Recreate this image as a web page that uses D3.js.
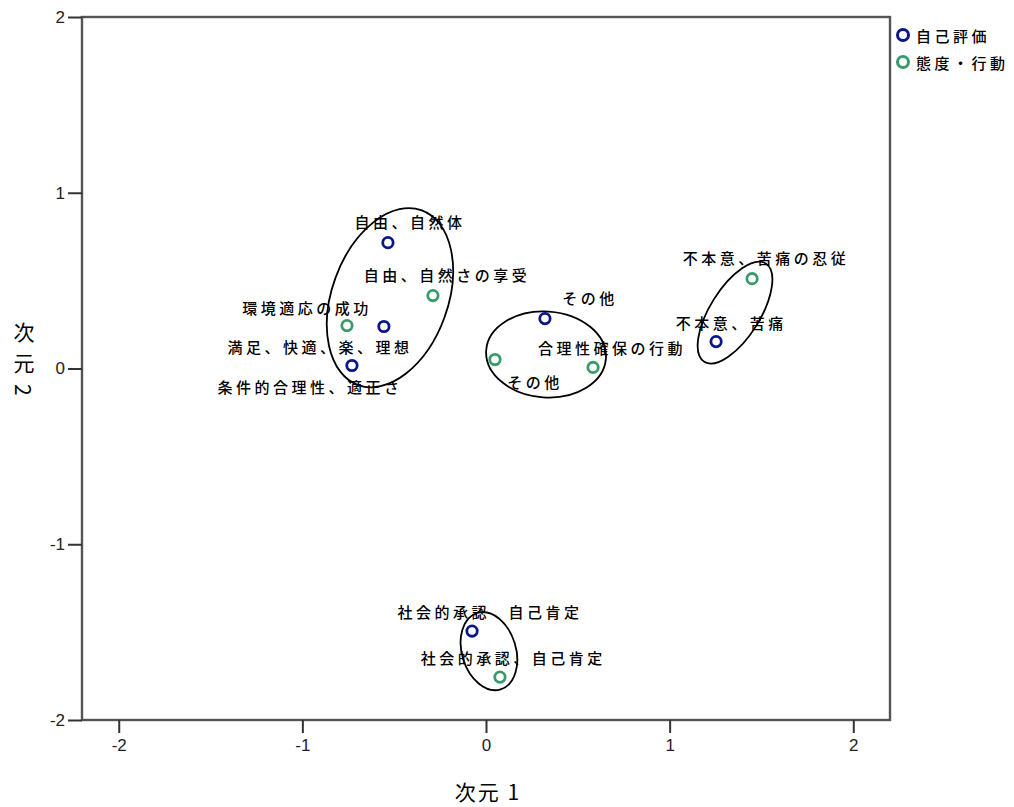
<!DOCTYPE html>
<html lang="ja">
<head>
<meta charset="utf-8">
<title>次元 1 × 次元 2</title>
<script src="https://cdn.jsdelivr.net/npm/d3@7"></script>
<style>
  body { margin: 0; background: #fff; }
  text { font-family: "Noto Sans CJK JP", sans-serif; }
  .tick text { font-family: "Liberation Sans", Arial, sans-serif; fill: #222; }
</style>
</head>
<body>
<script>

// series names (legend)
const groups = ["自己評価", "態度・行動"];

// 自己評価 points
const selfLabels = ["自由、自然体", "満足、快適、楽、理想", "条件的合理性、適正さ", "その他", "不本意、苦痛", "社会的承認　自己肯定"];
const selfX = [-0.534, -0.556, -0.730, 0.321, 1.253, -0.076];
const selfY = [0.716, 0.239, 0.017, 0.284, 0.153, -1.494];

// 態度・行動 points
const actLabels = ["自由、自然さの享受", "環境適応の成功", "合理性確保の行動", "その他", "不本意、苦痛の忍従", "社会的承認、自己肯定"];
const actX = [-0.289, -0.757, 0.583, 0.049, 1.449, 0.076];
const actY = [0.415, 0.244, 0.006, 0.051, 0.511, -1.756];

// where the labels sit, in data units
const selfLabelX = [-0.425, -0.915, -0.969, 0.556, 1.324, 0.011];
const selfLabelY = [0.835, 0.125, -0.102, 0.403, 0.261, -1.381];
const actLabelX = [-0.223, -0.986, 0.675, 0.256, 1.514, 0.138];
const actLabelY = [0.534, 0.347, 0.119, -0.074, 0.631, -1.642];

// axis ticks
const ticks = [-2, -1, 0, 1, 2];

// cluster ellipses (centre in data units)
const hullX = [-0.523, 0.327, 1.356, 0.016];
const hullY = [0.403, 0.080, 0.318, -1.608];

const w = 1014, h = 807;
const colors = ["#0b168a", "#3b9a6b"];

let x = d3.scaleLinear().domain([-2.2, 2.2]).range([82, 890]);
let y = d3.scaleLinear().domain([-2, 2]).range([720, 17]);

let svg = d3.select("body").append("svg")
  .attr("width", w)
  .attr("height", h);

// frame
svg.append("rect")
  .attr("x", x(-2.2)).attr("y", y(2))
  .attr("width", x(2.2) - x(-2.2)).attr("height", y(-2) - y(2))
  .attr("fill", "none")
  .attr("stroke", "#555")
  .attr("stroke-width", 2.4);

// axes
let xAxis = svg.append("g")
  .attr("transform", `translate(0,${y(-2)})`)
  .call(d3.axisBottom(x).tickValues(ticks).tickSize(13).tickPadding(6).tickFormat(d => String(d)));
let yAxis = svg.append("g")
  .attr("transform", `translate(${x(-2.2)},0)`)
  .call(d3.axisLeft(y).tickValues(ticks).tickSize(14).tickPadding(3).tickFormat(d => String(d)));

[xAxis, yAxis].forEach(a => {
  a.select(".domain").remove();
  a.selectAll(".tick line").attr("stroke", "#333").attr("stroke-width", 2);
  a.selectAll(".tick text").style("font-size", "17px");
});

// axis titles
svg.append("text")
  .attr("x", x(0) + 2).attr("y", 800)
  .attr("text-anchor", "middle")
  .style("font-size", "21px")
  .style("letter-spacing", "2px")
  .attr("fill", "#000")
  .text("次元 1");

svg.append("text")
  .attr("x", 24).attr("y", 322)
  .attr("text-anchor", "start")
  .style("writing-mode", "vertical-rl")
  .style("font-size", "21px")
  .style("letter-spacing", "10px")
  .attr("fill", "#000")
  .text("次元2");

// ellipses round the clusters
const hullRx = [58, 60, 25, 27];
const hullRy = [93, 43, 58, 40];
const hullAngle = [20, 4, 32, -17];
svg.selectAll("ellipse.hull")
  .data(hullX)
  .enter()
  .append("ellipse")
    .attr("class", "hull")
    .attr("transform", (d, i) => `translate(${x(d)},${y(hullY[i])}) rotate(${hullAngle[i]})`)
    .attr("rx", (d, i) => hullRx[i])
    .attr("ry", (d, i) => hullRy[i])
    .attr("fill", "none")
    .attr("stroke", "#000")
    .attr("stroke-width", 1.8);

// points and labels per series
const series = [
  { xs: selfX, ys: selfY, labels: selfLabels, lx: selfLabelX, ly: selfLabelY },
  { xs: actX, ys: actY, labels: actLabels, lx: actLabelX, ly: actLabelY }
];

series.forEach((s, k) => {
  let g = svg.append("g");
  g.selectAll("text")
    .data(s.labels)
    .enter()
    .append("text")
      .attr("x", (d, i) => x(s.lx[i]) + 2)
      .attr("y", (d, i) => y(s.ly[i]))
      .attr("text-anchor", "middle")
      .attr("dominant-baseline", "central")
      .style("font-size", "15px")
      .style("font-weight", 500)
      .style("letter-spacing", "3.5px")
      .attr("fill", "#000")
      .text(d => d);
  g.selectAll("circle")
    .data(s.xs)
    .enter()
    .append("circle")
      .attr("cx", d => x(d))
      .attr("cy", (d, i) => y(s.ys[i]))
      .attr("r", 5.2)
      .attr("fill", "#fff")
      .attr("stroke", colors[k])
      .attr("stroke-width", 2.8);
});

// legend
let legend = svg.append("g").attr("transform", "translate(903,35)");
legend.selectAll("circle")
  .data(groups)
  .enter()
  .append("circle")
    .attr("cy", (d, i) => i * 27)
    .attr("r", 5.5)
    .attr("fill", "#fff")
    .attr("stroke", (d, i) => colors[i])
    .attr("stroke-width", 3);
legend.selectAll("text")
  .data(groups)
  .enter()
  .append("text")
    .attr("x", 13)
    .attr("y", (d, i) => i * 27)
    .attr("dominant-baseline", "central")
    .style("font-size", "15px")
    .style("font-weight", 500)
    .style("letter-spacing", "3.5px")
    .attr("fill", "#000")
    .text(d => d);

</script>
</body>
</html>
